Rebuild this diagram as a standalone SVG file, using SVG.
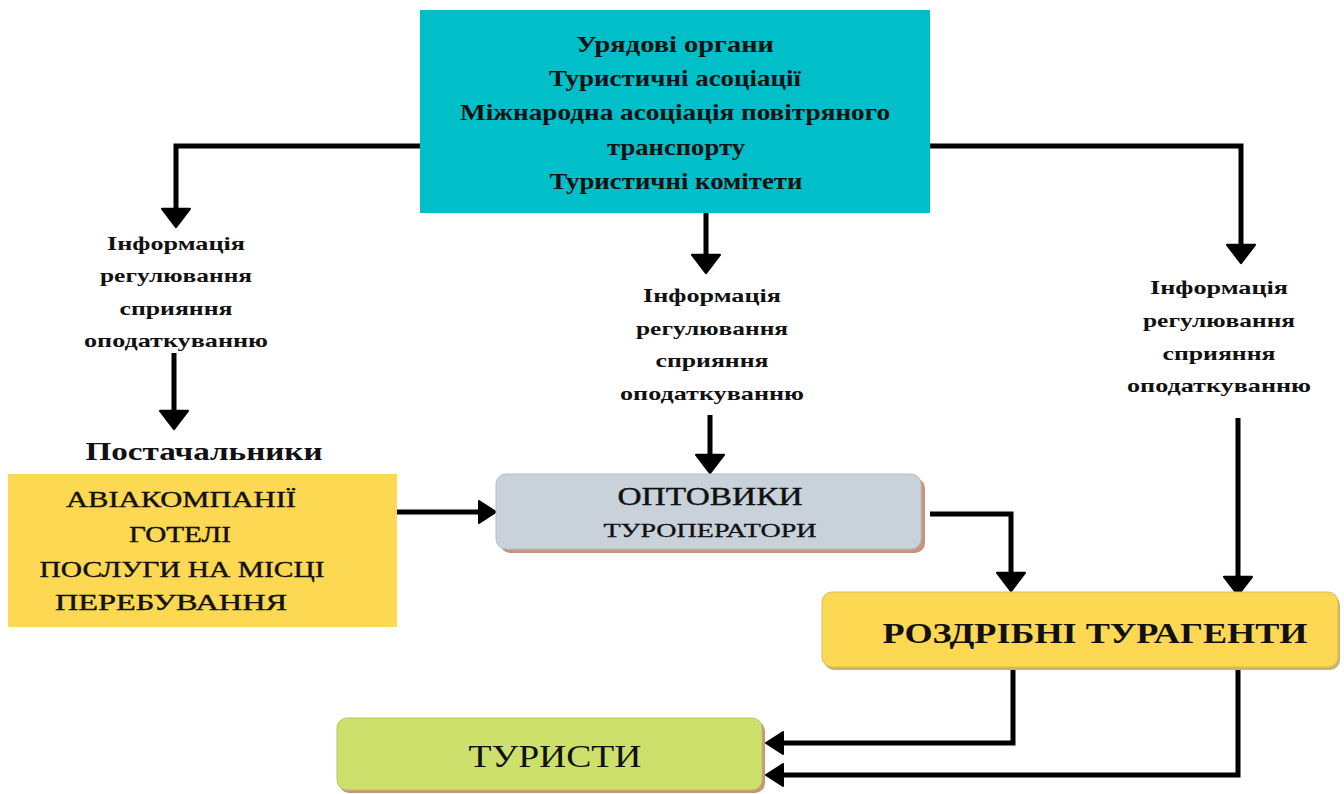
<svg xmlns="http://www.w3.org/2000/svg" width="1344" height="794" viewBox="0 0 1344 794">
<defs>
<marker id="ah" markerUnits="userSpaceOnUse" markerWidth="30" markerHeight="30" viewBox="0 0 18 28" refX="1" refY="14" orient="auto">
<path d="M0,1 L17,14 L0,27 z" fill="#000" stroke="#000" stroke-width="2" stroke-linejoin="round"/>
</marker>
<marker id="ahs" markerUnits="userSpaceOnUse" markerWidth="24" markerHeight="24" viewBox="0 0 18 24" refX="1" refY="12" orient="auto">
<path d="M0,1 L17,12 L0,23 z" fill="#000" stroke="#000" stroke-width="2" stroke-linejoin="round"/>
</marker>
</defs>
<style>
text{font-family:"Liberation Serif","DejaVu Serif",serif;fill:#111;text-anchor:middle}
.t{font-weight:bold;font-size:23px}
.lab{font-weight:bold;font-size:19px}
.sup{font-size:23px;stroke:#111;stroke-width:0.4}
.conn{fill:none;stroke:#000;stroke-width:5}
</style>
<rect width="1344" height="794" fill="#fff"/>
<g id="connectors">
<path class="conn" d="M420,146 H176 V210" marker-end="url(#ah)"/>
<path class="conn" d="M174,353 V412" marker-end="url(#ah)"/>
<path class="conn" d="M706,213 V256" marker-end="url(#ah)"/>
<path class="conn" d="M710,415 V456" marker-end="url(#ah)"/>
<path class="conn" d="M930,146 H1241 V246" marker-end="url(#ah)"/>
<path class="conn" d="M1238,418 V578" marker-end="url(#ah)"/>
<path class="conn" d="M397,512 H480" marker-end="url(#ahs)"/>
<path class="conn" d="M930,514 H1011 V574" marker-end="url(#ah)"/>
<path class="conn" d="M1013,668 V743 H782" marker-end="url(#ahs)"/>
<path class="conn" d="M1238,668 V775 H782" marker-end="url(#ahs)"/>
</g>
<g id="gov">
<rect x="420" y="10" width="510" height="203" fill="#00BFC8"/>
<text class="t" x="675" y="52" textLength="198" lengthAdjust="spacingAndGlyphs">Урядові органи</text>
<text class="t" x="675" y="86" textLength="252" lengthAdjust="spacingAndGlyphs">Туристичні асоціації</text>
<text class="t" x="675" y="120" textLength="430" lengthAdjust="spacingAndGlyphs">Міжнародна асоціація повітряного</text>
<text class="t" x="676" y="155" textLength="138" lengthAdjust="spacingAndGlyphs">транспорту</text>
<text class="t" x="676" y="189" textLength="253" lengthAdjust="spacingAndGlyphs">Туристичні комітети</text>
</g>
<g id="label-left">
<text class="lab" x="176" y="250" textLength="138" lengthAdjust="spacingAndGlyphs">Інформація</text>
<text class="lab" x="176" y="282" textLength="152" lengthAdjust="spacingAndGlyphs">регулювання</text>
<text class="lab" x="176" y="315" textLength="113" lengthAdjust="spacingAndGlyphs">сприяння</text>
<text class="lab" x="176" y="347" textLength="184" lengthAdjust="spacingAndGlyphs">оподаткуванню</text>
</g>
<g id="label-mid">
<text class="lab" x="712" y="302" textLength="138" lengthAdjust="spacingAndGlyphs">Інформація</text>
<text class="lab" x="712" y="335" textLength="152" lengthAdjust="spacingAndGlyphs">регулювання</text>
<text class="lab" x="712" y="367" textLength="113" lengthAdjust="spacingAndGlyphs">сприяння</text>
<text class="lab" x="712" y="400" textLength="184" lengthAdjust="spacingAndGlyphs">оподаткуванню</text>
</g>
<g id="label-right">
<text class="lab" x="1219" y="294" textLength="138" lengthAdjust="spacingAndGlyphs">Інформація</text>
<text class="lab" x="1219" y="327" textLength="152" lengthAdjust="spacingAndGlyphs">регулювання</text>
<text class="lab" x="1219" y="360" textLength="113" lengthAdjust="spacingAndGlyphs">сприяння</text>
<text class="lab" x="1219" y="392" textLength="184" lengthAdjust="spacingAndGlyphs">оподаткуванню</text>
</g>
<g id="suppliers">
<text x="204" y="460" style="font-weight:bold;font-size:26px" textLength="237" lengthAdjust="spacingAndGlyphs">Постачальники</text>
<rect x="8" y="474" width="389" height="153" fill="#FDD853"/>
<text class="sup" x="181" y="507" textLength="230" lengthAdjust="spacingAndGlyphs">АВІАКОМПАНІЇ</text>
<text class="sup" x="180" y="542" textLength="102" lengthAdjust="spacingAndGlyphs">ГОТЕЛІ</text>
<text class="sup" x="182" y="577" textLength="285" lengthAdjust="spacingAndGlyphs">ПОСЛУГИ НА МІСЦІ</text>
<text class="sup" x="171" y="610" textLength="232" lengthAdjust="spacingAndGlyphs">ПЕРЕБУВАННЯ</text>
</g>
<g id="wholesalers">
<rect x="500" y="478" width="425" height="75" rx="10" fill="#C8957A"/>
<rect x="496" y="474" width="425" height="75" rx="10" fill="#C9D1DB" stroke="#B5BDC8" stroke-width="1"/>
<text x="710" y="505" style="font-size:25px;stroke:#111;stroke-width:0.4" textLength="185" lengthAdjust="spacingAndGlyphs">ОПТОВИКИ</text>
<text x="710" y="537" style="font-size:19px;stroke:#111;stroke-width:0.3" textLength="213" lengthAdjust="spacingAndGlyphs">ТУРОПЕРАТОРИ</text>
</g>
<g id="retail">
<rect x="824" y="595" width="516" height="75" rx="10" fill="#C8B46A"/>
<rect x="822" y="592" width="516" height="75" rx="10" fill="#FDD853" stroke="#D6BE5C" stroke-width="1"/>
<text x="1095" y="643" style="font-weight:bold;font-size:30px" textLength="425" lengthAdjust="spacingAndGlyphs">РОЗДРІБНІ ТУРАГЕНТИ</text>
</g>
<g id="tourists">
<rect x="339" y="721" width="426" height="72" rx="10" fill="#C8957A"/>
<rect x="337" y="718" width="425" height="72" rx="10" fill="#CDE06B" stroke="#B5C860" stroke-width="1"/>
<text x="555" y="767" style="font-size:32px" textLength="173" lengthAdjust="spacingAndGlyphs">ТУРИСТИ</text>
</g>
</svg>
